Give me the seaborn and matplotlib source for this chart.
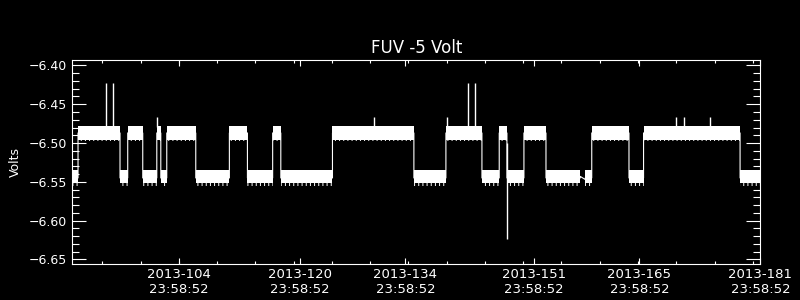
import numpy as np
import pandas as pd
import matplotlib
matplotlib.use("Agg")
import matplotlib.pyplot as plt
import seaborn as sns
from matplotlib.ticker import FixedLocator

# ---------------- data ----------------
# segment edges in days (x axis unit), and the state of each segment
seg_edges = [89.905, 90.66, 96.22, 97.24, 99.23, 101.09, 101.62, 102.41, 106.25,
             110.70, 113.09, 116.43, 117.51, 124.35, 135.13, 139.37, 144.14,
             146.43, 147.45, 149.70, 152.62, 157.16, 157.82, 158.68, 163.61,
             165.54, 178.32, 181.04]
seg_state = ["L", "H", "L", "H", "L", "H", "L", "H", "L", "H", "L", "H", "L",
             "H", "L", "H", "L", "H", "L", "H", "L", "gap", "L", "H", "L", "H", "L"]

# voltage band of each state: top, solid-core bottom, noisy bottom, centre
band_top = {"H": -6.4786, "L": -6.5353}
band_core_bottom = {"H": -6.4955, "L": -6.5512}
band_bottom = {"H": -6.4978, "L": -6.5555}
band_mid = {"H": -6.487, "L": -6.545}

# isolated spikes
spike_day = [94.37, 95.30, 142.32, 143.25, 101.09, 129.84, 139.50, 169.78,
             170.84, 174.38, 147.40]
spike_base = [-6.479, -6.479, -6.479, -6.479, -6.479, -6.479, -6.479, -6.479,
              -6.479, -6.479, -6.500]
spike_peak = [-6.423, -6.423, -6.423, -6.423, -6.467, -6.467, -6.467, -6.467,
              -6.467, -6.467, -6.624]

tick_days = [104, 120, 134, 151, 165, 181]
tick_labels = ["2013-104\n23:58:52", "2013-120\n23:58:52", "2013-134\n23:58:52",
               "2013-151\n23:58:52", "2013-165\n23:58:52", "2013-181\n23:58:52"]
y_ticks = [-6.40, -6.45, -6.50, -6.55, -6.60, -6.65]

title = "FUV -5 Volt"
ylabel = "Volts"

# ---------------- styling ----------------
sns.set_style("dark")
plt.rcParams.update({
    "font.family": ["DejaVu Sans"],
    "figure.facecolor": "black",
    "axes.facecolor": "black",
    "axes.edgecolor": "white",
    "axes.linewidth": 0.8,
    "text.color": "white",
    "axes.labelcolor": "white",
    "xtick.color": "white",
    "ytick.color": "white",
    "hatch.color": "white",
    "hatch.linewidth": 0.7,
    "axes.grid": False,
})

fig = plt.figure(figsize=(8, 3), dpi=100)
ax = fig.add_axes([0.0904, 0.121, 0.8600, 0.680])

# centre line (gives the vertical transitions between levels)
cx, cy, cid = [], [], []
for i, st in enumerate(seg_state):
    t0, t1 = seg_edges[i], seg_edges[i + 1]
    if st == "gap":
        cx += [t0, t1]
        cy += [band_mid["L"] + 0.002, band_mid["L"] - 0.002]
    else:
        cx += [t0, t1]
        cy += [band_mid[st], band_mid[st]]
    cid += [0, 0]
df = pd.DataFrame({"day": cx, "volt": cy, "k": cid})
sns.lineplot(data=df, x="day", y="volt", sort=False, estimator=None,
             color="white", lw=0.8, ax=ax, legend=False)

# noisy bands
for i, st in enumerate(seg_state):
    if st == "gap":
        continue
    t = [seg_edges[i], seg_edges[i + 1]]
    ax.fill_between(t, band_core_bottom[st], band_top[st], color="white", lw=0)
    ax.fill_between(t, band_bottom[st], band_core_bottom[st], facecolor="none",
                    edgecolor="white", hatch="||||", lw=0)

# spikes
ax.vlines(spike_day, spike_base, spike_peak, colors="white", lw=1.0)

# ---------------- axes ----------------
ax.set_xlim(89.905, 181.0)
ax.set_ylim(-6.6555, -6.3926)
ax.xaxis.set_major_locator(FixedLocator(tick_days))
ax.set_xticklabels(tick_labels)
ax.xaxis.set_minor_locator(FixedLocator(list(np.arange(93.88, 181.0, 5.066))))
ax.yaxis.set_major_locator(FixedLocator(y_ticks))
ax.yaxis.set_minor_locator(FixedLocator(list(np.arange(-6.65, -6.395, 0.01))))
ax.set_yticklabels([f"{v:.2f}".replace("-", "\u2212") for v in y_ticks])

ax.tick_params(axis="y", which="major", direction="in", length=10, width=0.8,
               right=True, left=True, labelsize=9, pad=3.6)
ax.tick_params(axis="y", which="minor", direction="in", length=5, width=0.8,
               right=True, left=True)
ax.tick_params(axis="x", which="major", direction="in", length=4.5, width=0.8,
               top=True, bottom=True, labelsize=9.5, pad=3.2)
ax.tick_params(axis="x", which="minor", direction="in", length=2.5, width=0.8,
               top=True, bottom=True)
for lbl in ax.get_xticklabels():
    lbl.set_linespacing(1.2)

for s in ax.spines.values():
    s.set_visible(True)
    s.set_color("white")

ax.set_title(title, fontsize=12, color="white", pad=4.6)
ax.set_xlabel("")
ax.set_ylabel(ylabel, fontsize=9, labelpad=6)
ax.yaxis.set_label_coords(-0.074, 0.50)

fig.savefig("out.png", dpi=100, facecolor="black")
